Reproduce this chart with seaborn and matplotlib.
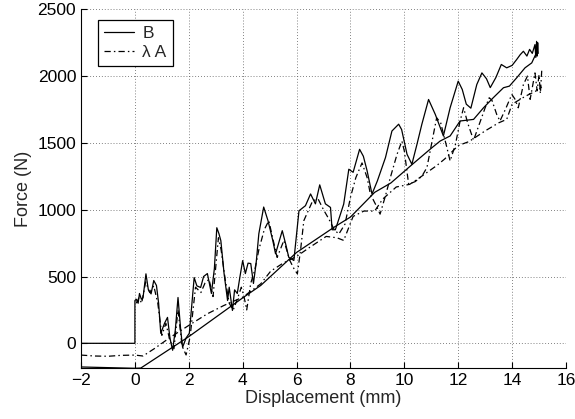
import pandas as pd
import seaborn as sns
import matplotlib.pyplot as plt

# B, measured (oscillating) curve
b_osc_x = [-2, 0, 0.0, 0.05, 0.12, 0.17, 0.24, 0.3, 0.41, 0.5, 0.6, 0.7, 0.8, 0.88, 0.96,
           1.1, 1.21, 1.3, 1.4, 1.5, 1.6, 1.7, 1.77, 1.9, 2.02, 2.2, 2.3, 2.44, 2.55, 2.69,
           2.84, 2.95, 3.04, 3.12, 3.19, 3.31, 3.44, 3.5, 3.62, 3.7, 3.8, 3.9, 4.0, 4.1,
           4.2, 4.3, 4.4, 4.5, 4.6, 4.78, 4.94, 5.12, 5.22, 5.35, 5.47, 5.6, 5.71, 5.9,
           6.09, 6.33, 6.52, 6.7, 6.86, 7.07, 7.26, 7.32, 7.44, 7.63, 7.75, 7.94, 8.1,
           8.34, 8.48, 8.62, 8.8, 9.0, 9.3, 9.54, 9.79, 9.9, 10.1, 10.28, 10.47, 10.65,
           10.9, 11.15, 11.45, 11.7, 12.0, 12.15, 12.3, 12.47, 12.69, 12.88, 13.05, 13.19,
           13.4, 13.6, 13.8, 14.0, 14.17, 14.3, 14.42, 14.55, 14.65, 14.75, 14.85, 14.88,
           14.91, 14.93, 14.95, 14.97]
b_osc_y = [0, 0, 320, 330, 300, 373, 330, 340, 520, 400, 370, 470, 433, 300, 75,
           150, 194, 40, -52, 100, 343, 100, -30, 40, 75, 492, 430, 418, 500, 522,
           373, 560, 865, 820, 768, 522, 320, 420, 246, 400, 373, 500, 619, 522,
           600, 597, 448, 600, 820, 1020, 918, 768, 670, 760, 843, 740, 644, 620,
           992, 1030, 1118, 1044, 1186, 1044, 1017, 850, 850, 967, 1042, 1303, 1280,
           1452, 1400, 1290, 1117, 1216, 1390, 1589, 1640, 1600, 1415, 1340, 1490, 1639,
           1825, 1713, 1552, 1763, 1962, 1900, 1790, 1760, 1937, 2024, 1980, 1914,
           1990, 2087, 2062, 2080, 2124, 2160, 2186, 2150, 2200, 2170, 2236, 2140,
           2260, 2150, 2250, 2170]

# B, smooth curve
b_sm_x = [-2, 0, 0.22, 2, 4, 4.67, 6, 7.4, 8, 8.9, 9.5, 10.3, 11.0, 11.33, 11.7, 12.07,
          12.57, 12.94, 13.3, 13.68, 13.9, 14.17, 14.48, 14.73, 14.93]
b_sm_y = [-177, -187, -185, 50, 340, 433, 680, 870, 945, 1130, 1200, 1340, 1460, 1514,
          1552, 1664, 1676, 1763, 1838, 1913, 1925, 1987, 2062, 2099, 2186]

# lambda A, measured (oscillating) curve
a_osc_x = [0.05, 0.15, 0.25, 0.4, 0.55, 0.7, 0.85, 1.0, 1.15, 1.3, 1.45, 1.6, 1.75, 1.9,
           2.05, 2.25, 2.45, 2.6, 2.75, 2.9, 3.1, 3.2, 3.35, 3.5, 3.65, 3.8, 3.95, 4.05,
           4.15, 4.3, 4.45, 4.6, 4.8, 4.97, 5.1, 5.28, 5.53, 5.75, 5.9, 6.03, 6.15, 6.27,
           6.45, 6.6, 6.8, 7.0, 7.2, 7.4, 7.57, 7.8, 8.0, 8.2, 8.43, 8.62, 8.74, 8.99, 9.1,
           9.3, 9.48, 9.73, 9.91, 10.0, 10.16, 10.4, 10.65, 10.84, 10.96, 11.2, 11.35,
           11.58, 11.7, 11.9, 12.07, 12.2, 12.35, 12.57, 12.8, 13.0, 13.15, 13.25, 13.43,
           13.55, 13.75, 13.99, 14.1, 14.23, 14.42, 14.57, 14.67, 14.85, 14.93, 15.0,
           15.05, 15.1]
a_osc_y = [300, 340, 300, 460, 380, 430, 300, 60, 150, 20, -40, 250, -20, -87,
           50, 420, 380, 450, 480, 350, 790, 700, 480, 300, 250, 330, 420, 350,
           250, 450, 550, 700, 850, 918, 800, 643, 770, 620, 560, 520, 700, 918,
           1000, 1067, 1080, 1000, 930, 850, 818, 893, 1092, 1240, 1350, 1240, 1117, 1017, 967,
           1104, 1240, 1415, 1514, 1440, 1191, 1210, 1250, 1316, 1440, 1688, 1650,
           1465, 1365, 1490, 1664, 1763, 1650, 1520, 1650, 1763, 1838, 1820, 1713,
           1664, 1750, 1863, 1830, 1763, 1937, 2000, 1826, 2024, 1890, 2010,
           1870, 2040]

# lambda A, smooth curve
a_sm_x = [-2, -1.5, -1, -0.5, 0, 0.3, 0.72, 1.33, 2.0, 2.69, 3.3, 4.0, 4.67, 5.04, 5.5,
          6.0, 6.5, 7.1, 7.5, 7.75, 8.1, 8.5, 8.9, 9.2, 9.7, 10.2, 10.5, 11.2, 11.5, 12.0,
          12.4, 13.0, 13.5, 13.8, 14.0, 14.5, 15.0, 15.1]
a_sm_y = [-88, -95, -97, -90, -88, -95, -40, 47, 134, 221, 283, 345, 445, 540, 600,
          650, 720, 800, 790, 770, 950, 990, 990, 1080, 1170, 1190, 1230, 1330, 1380, 1480,
          1510, 1590, 1650, 1676, 1790, 1850, 1900, 1920]

sns.set_style("ticks")
plt.rcParams['font.family'] = ['Liberation Sans', 'DejaVu Sans']
plt.rcParams['xtick.direction'] = 'in'
plt.rcParams['ytick.direction'] = 'in'

fig = plt.figure(figsize=(5.75, 4.19), dpi=100)
ax = fig.add_axes([0.1409, 0.121, 0.8434, 0.8568])

dashdot = (0, (5, 2.5, 1.2, 2.5))
curves = [
    (b_osc_x, b_osc_y, '-', 'B'),
    (b_sm_x, b_sm_y, '-', None),
    (a_osc_x, a_osc_y, dashdot, '\u03bb A'),
    (a_sm_x, a_sm_y, dashdot, None),
]
for xs, ys, ls, lab in curves:
    df = pd.DataFrame({"x": xs, "y": ys})
    sns.lineplot(data=df, x="x", y="y", sort=False, estimator=None, ax=ax,
                 color='black', linewidth=0.9, linestyle=ls,
                 label=lab if lab else '_nolegend_')

ax.set_xlim(-2, 16)
ax.set_ylim(-187, 2500)
ax.set_xticks(range(-2, 17, 2))
ax.set_xticklabels(['\u22122'] + [str(v) for v in range(0, 17, 2)])
ax.set_yticks(range(0, 2501, 500))
ax.grid(True, color='0.35', linestyle=(0, (1, 2.5)), linewidth=0.6)
sns.despine(ax=ax)
for s in ['left', 'bottom']:
    ax.spines[s].set_linewidth(0.8)
    ax.spines[s].set_color('black')
ax.tick_params(labelsize=12.5, length=4, width=0.8, colors='black')
ax.set_xlabel("Displacement (mm)", fontsize=13, labelpad=1)
ax.set_ylabel("Force (N)", fontsize=13, labelpad=4)

leg = ax.legend(loc='upper left', bbox_to_anchor=(0.035, 0.97), borderaxespad=0,
                fontsize=12.5, frameon=True, fancybox=False, framealpha=1,
                edgecolor='black', handlelength=1.7, borderpad=0.35,
                labelspacing=0.2, handletextpad=0.5)
leg.get_frame().set_linewidth(0.9)

fig.savefig("out.png", dpi=100)
